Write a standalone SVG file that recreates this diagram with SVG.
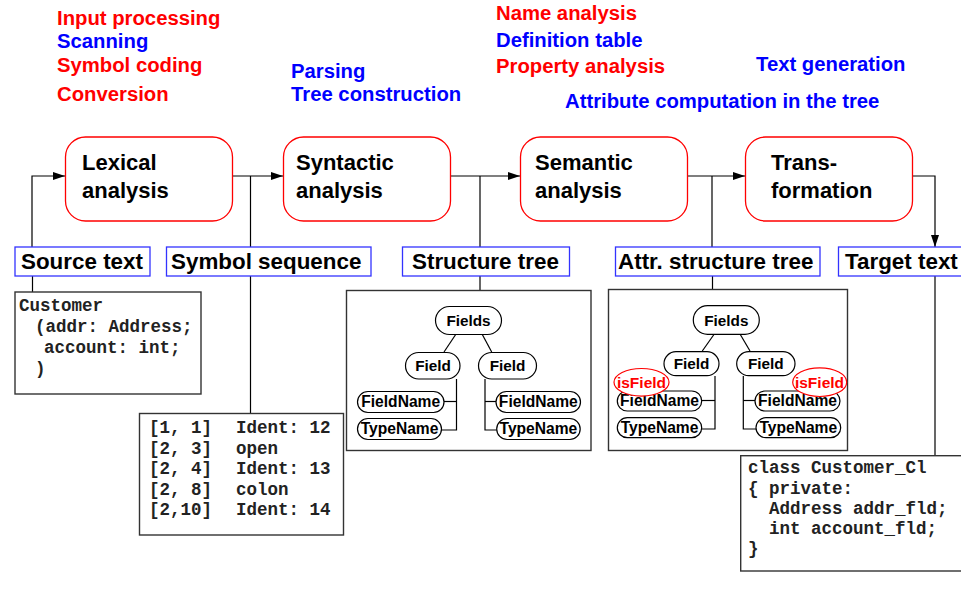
<svg xmlns="http://www.w3.org/2000/svg" width="961" height="594" viewBox="0 0 961 594">
<defs>
<marker id="arr" viewBox="0 0 12 8" refX="12" refY="4" markerWidth="12" markerHeight="8" markerUnits="userSpaceOnUse" orient="auto">
<path d="M0,0 L12,4 L0,8 z" fill="#000"/>
</marker>
</defs>
<style>
text{font-family:"Liberation Sans",Arial,sans-serif;font-weight:bold}
.red{fill:#ff0000;font-size:20.3px}
.blue{fill:#0000ff;font-size:20.3px}
.phase{fill:#fff;stroke:#ff0000;stroke-width:1.3}
.ptxt{font-size:22px;fill:#000}
.lbl{fill:#fff;stroke:#3333ff;stroke-width:1.3}
.ltxt{font-size:22.4px;fill:#000}
.code{fill:#fff;stroke:#333;stroke-width:1.4}
.mono{font-family:"Liberation Mono","Courier New",monospace;font-size:17.5px;fill:#222;white-space:pre}
.con{fill:none;stroke:#000;stroke-width:1.2}
.tbox{fill:#fff;stroke:#333;stroke-width:1.4}
.pill{fill:#fff;stroke:#000;stroke-width:1.2}
.ntxt{font-size:15.3px;fill:#000;text-anchor:middle}
.stxt{font-size:15.6px;fill:#000;text-anchor:middle}
.tl{fill:none;stroke:#000;stroke-width:1.2}
.attr{fill:#fff;stroke:#ff0000;stroke-width:1.2}
.atxt{font-size:15.5px;fill:#ff0000;text-anchor:middle}
</style>
<rect width="961" height="594" fill="#fff"/>

<g id="task-labels">
<text class="red" x="57" y="25">Input processing</text>
<text class="blue" x="57" y="48">Scanning</text>
<text class="red" x="57" y="72">Symbol coding</text>
<text class="red" x="57" y="101">Conversion</text>
<text class="blue" x="291" y="78">Parsing</text>
<text class="blue" x="291" y="101">Tree construction</text>
<text class="red" x="496" y="20">Name analysis</text>
<text class="blue" x="496" y="46.5">Definition table</text>
<text class="red" x="496" y="72.5">Property analysis</text>
<text class="blue" x="756" y="70.5">Text generation</text>
<text class="blue" x="565" y="108">Attribute computation in the tree</text>
</g>

<g id="connectors">
<polyline class="con" points="32,247 32,176 65,176" marker-end="url(#arr)"/>
<line class="con" x1="232" y1="176" x2="283" y2="176" marker-end="url(#arr)"/>
<line class="con" x1="250.5" y1="176" x2="250.5" y2="247"/>
<line class="con" x1="450" y1="176" x2="520" y2="176" marker-end="url(#arr)"/>
<line class="con" x1="480" y1="176" x2="480" y2="247"/>
<line class="con" x1="687" y1="176" x2="745" y2="176" marker-end="url(#arr)"/>
<line class="con" x1="712" y1="176" x2="712" y2="247"/>
<polyline class="con" points="913,176 935,176 935,247" marker-end="url(#arr)"/>
<line class="con" x1="32.5" y1="276" x2="32.5" y2="292"/>
<line class="con" x1="250.5" y1="276" x2="250.5" y2="413"/>
<line class="con" x1="480" y1="276" x2="480" y2="291"/>
<line class="con" x1="712.5" y1="276" x2="712.5" y2="289"/>
<line class="con" x1="935" y1="276" x2="935" y2="456"/>
</g>

<g id="lexical">
<rect class="phase" x="65.5" y="137" width="167" height="84" rx="20"/>
<text class="ptxt" x="82" y="170">Lexical</text>
<text class="ptxt" x="82" y="198">analysis</text>
</g>
<g id="syntactic">
<rect class="phase" x="283.5" y="137" width="167" height="84" rx="20"/>
<text class="ptxt" x="296" y="170">Syntactic</text>
<text class="ptxt" x="296" y="198">analysis</text>
</g>
<g id="semantic">
<rect class="phase" x="520.5" y="137" width="167" height="84" rx="20"/>
<text class="ptxt" x="535" y="170">Semantic</text>
<text class="ptxt" x="535" y="198">analysis</text>
</g>
<g id="transformation">
<rect class="phase" x="745.5" y="137" width="167" height="84" rx="20"/>
<text class="ptxt" x="771" y="170">Trans-</text>
<text class="ptxt" x="771" y="198">formation</text>
</g>

<g id="source-text">
<rect class="lbl" x="15" y="247" width="135" height="29"/>
<text class="ltxt" x="21" y="268.5">Source text</text>
</g>
<g id="symbol-sequence">
<rect class="lbl" x="166.5" y="247" width="204.5" height="29"/>
<text class="ltxt" x="171" y="268.5">Symbol sequence</text>
</g>
<g id="structure-tree">
<rect class="lbl" x="402.5" y="247" width="167" height="29"/>
<text class="ltxt" x="412" y="268.5">Structure tree</text>
</g>
<g id="attr-structure-tree">
<rect class="lbl" x="615.5" y="247" width="204.5" height="29"/>
<text class="ltxt" x="618" y="268.5">Attr. structure tree</text>
</g>
<g id="target-text">
<rect class="lbl" x="838.5" y="247" width="130" height="29"/>
<text class="ltxt" x="845" y="268.5">Target text</text>
</g>

<g id="source-code">
<rect class="code" x="15" y="292" width="186" height="102"/>
<text class="mono" x="19" y="311">Customer</text>
<text class="mono" x="35" y="332">(addr: Address;</text>
<text class="mono" x="44" y="353">account: int;</text>
<text class="mono" x="35" y="374">)</text>
</g>

<g id="token-list">
<rect class="code" x="139.5" y="413.5" width="204" height="121.5"/>
<text class="mono" x="149" y="433">[1, 1]<tspan x="236">Ident: 12</tspan></text>
<text class="mono" x="149" y="453.5">[2, 3]<tspan x="236">open</tspan></text>
<text class="mono" x="149" y="474">[2, 4]<tspan x="236">Ident: 13</tspan></text>
<text class="mono" x="149" y="494.5">[2, 8]<tspan x="236">colon</tspan></text>
<text class="mono" x="149" y="514.5">[2,10]<tspan x="236">Ident: 14</tspan></text>
</g>

<g id="tree">
<rect class="tbox" x="346.5" y="290.5" width="244.5" height="160"/>
<line class="tl" x1="455.7" y1="334.5" x2="444" y2="352"/>
<line class="tl" x1="482.3" y1="334.5" x2="491.7" y2="352"/>
<polyline class="tl" points="456.5,379 456.5,430 441.7,430"/>
<line class="tl" x1="444" y1="401.5" x2="456.5" y2="401.5"/>
<polyline class="tl" points="485,379 485,430 496.7,430"/>
<line class="tl" x1="485" y1="401.5" x2="496" y2="401.5"/>
<rect class="pill" x="435.5" y="306.5" width="66" height="28" rx="14"/>
<text class="ntxt" x="468.5" y="326">Fields</text>
<rect class="pill" x="405.5" y="352.5" width="54.5" height="26.5" rx="13.2"/>
<text class="ntxt" x="433" y="371">Field</text>
<rect class="pill" x="478.5" y="352.5" width="58" height="26.5" rx="13.2"/>
<text class="ntxt" x="507.5" y="371">Field</text>
<rect class="pill" x="357.5" y="391.5" width="86.5" height="21" rx="10.5"/>
<text class="stxt" x="400.7" y="407.3">FieldName</text>
<rect class="pill" x="357.5" y="418.5" width="84" height="21" rx="10.5"/>
<text class="stxt" x="399.5" y="434.3">TypeName</text>
<rect class="pill" x="496" y="391.5" width="84.5" height="21" rx="10.5"/>
<text class="stxt" x="538.3" y="407.3">FieldName</text>
<rect class="pill" x="496.7" y="418.5" width="83.5" height="21" rx="10.5"/>
<text class="stxt" x="538.4" y="434.3">TypeName</text>
</g>

<g id="attr-tree">
<rect class="tbox" x="608.5" y="289.5" width="239" height="161"/>
<line class="tl" x1="714.3" y1="334" x2="702.3" y2="351"/>
<line class="tl" x1="740" y1="334" x2="750" y2="351"/>
<polyline class="tl" points="715,376 715,429 701.7,429"/>
<line class="tl" x1="701.7" y1="400.5" x2="715" y2="400.5"/>
<polyline class="tl" points="743.3,376 743.3,429 756,429"/>
<line class="tl" x1="743.3" y1="400.5" x2="755" y2="400.5"/>
<rect class="pill" x="693.3" y="305.7" width="66" height="28.6" rx="14.3"/>
<text class="ntxt" x="726.3" y="325.5">Fields</text>
<rect class="pill" x="664" y="351.7" width="55" height="24" rx="12"/>
<text class="ntxt" x="691.5" y="369">Field</text>
<rect class="pill" x="736.7" y="351.7" width="58.3" height="24" rx="12"/>
<text class="ntxt" x="765.8" y="369">Field</text>
<rect class="pill" x="617.3" y="391" width="84.4" height="20" rx="10"/>
<text class="stxt" x="659.5" y="406.3">FieldName</text>
<rect class="pill" x="617.3" y="417.7" width="84.4" height="20" rx="10"/>
<text class="stxt" x="659.5" y="433.3">TypeName</text>
<rect class="pill" x="755" y="391" width="85" height="20" rx="10"/>
<text class="stxt" x="797.5" y="406.3">FieldName</text>
<rect class="pill" x="756" y="417.7" width="84.7" height="20" rx="10"/>
<text class="stxt" x="798.3" y="433.3">TypeName</text>
<ellipse class="attr" cx="641.5" cy="382.3" rx="27.5" ry="13.8"/>
<text class="atxt" x="641.5" y="387.8">isField</text>
<ellipse class="attr" cx="819.7" cy="382.2" rx="27" ry="14.3"/>
<text class="atxt" x="819.5" y="387.8">isField</text>
</g>

<g id="target-code">
<rect class="code" x="740.7" y="455.7" width="230" height="115.3"/>
<text class="mono" x="748" y="473.3">class Customer_Cl</text>
<text class="mono" x="748" y="493.5">{ private:</text>
<text class="mono" x="748" y="514">  Address addr_fld;</text>
<text class="mono" x="748" y="534">  int account_fld;</text>
<text class="mono" x="748" y="554">}</text>
</g>
</svg>
